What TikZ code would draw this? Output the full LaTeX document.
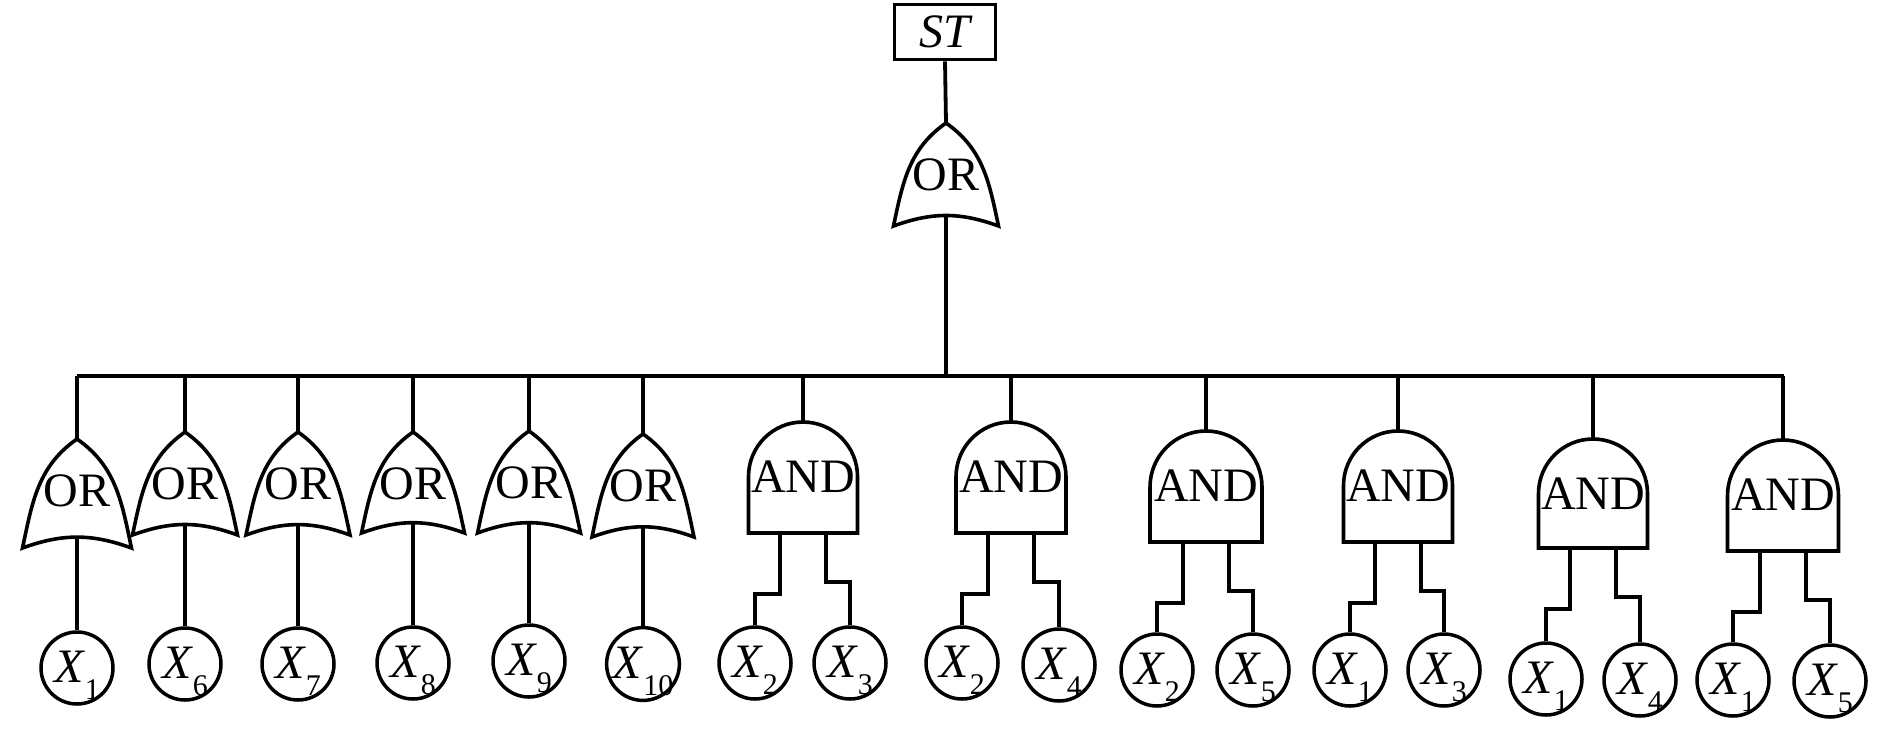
\documentclass[tikz,border=0pt]{standalone}
\usepackage{fontspec}
\setmainfont{Liberation Serif}
\tikzset{
  wire/.style={line width=3.8pt, line join=miter},
  gateline/.style={line width=3.6pt, line join=miter},
  gatetext/.style={inner sep=0pt, font=\fontsize{48}{50}\selectfont},
  event/.style={circle, draw, line width=3.5pt, minimum size=72pt, inner sep=0pt,
    text height=34pt, text depth=6pt, font=\fontsize{48}{50}\selectfont},
  topbox/.style={rectangle, draw, line width=3.6pt, minimum width=101pt, minimum height=55pt,
    inner sep=0pt, font=\fontsize{48}{50}\selectfont\itshape}
}
\newcommand\Xv[1]{\textit{X}\raisebox{-17pt}{\fontsize{30}{30}\selectfont #1}}
% name, x, ytop, ybot, width
\newcommand\ORgate[5]{%
  \draw[gateline] ({#2-#5/2},-#4) to[out=78,in=215] (#2,-#3)
     to[out=-35,in=102] ({#2+#5/2},-#4) to[out=160,in=20] cycle;
  \coordinate (#1-in) at (#2,-#3);
  \coordinate (#1-out) at (#2,{-#4+10});
  \node[gatetext] (#1) at (#2,{-#3-52}) {OR};
}
\newcommand\ANDgate[5]{%
  \draw[gateline] ({#2-#5/2},-#4) -- ({#2-#5/2},{-#3-#5/2})
     arc[start angle=180,end angle=0,radius={#5/2}] -- ({#2+#5/2},-#4) -- cycle;
  \coordinate (#1-in) at (#2,-#3);
  \coordinate (#1-l) at ({#2-23},-#4);
  \coordinate (#1-r) at ({#2+23},-#4);
  \node[gatetext] (#1) at (#2,{-#3-55}) {AND};
}
\begin{document}
\begin{tikzpicture}[x=1pt,y=1pt]
\useasboundingbox (0,0) rectangle (1890,-732);

% top event and top OR
\node[topbox] (ST) at (945,-32) {ST};
\ORgate{T}{946}{123}{226}{105}
\draw[wire] (ST.south) -- (T-in);

% bus
\coordinate (busL) at (77,-376);
\coordinate (busR) at (1784,-376);
\draw[wire] (busL) -- (busR);
\draw[wire] (T-out) -- (T-out |- busL);

% OR gates
\ORgate{O1}{77}{439}{548}{109}
\ORgate{O2}{185}{432}{535}{105}
\ORgate{O3}{298}{432}{535}{104}
\ORgate{O4}{413}{432}{533}{103}
\ORgate{O5}{529}{431}{533}{103}
\ORgate{O6}{643}{434}{537}{102}

\node[event] (e1) at (77,-668) {\Xv{1}};
\node[event] (e6) at (185,-664) {\Xv{6}};
\node[event] (e7) at (298,-664) {\Xv{7}};
\node[event] (e8) at (413,-663) {\Xv{8}};
\node[event] (e9) at (529,-661) {\Xv{9}};
\node[event] (e10) at (643,-664) {\Xv{10}};

\foreach \g/\e in {O1/e1,O2/e6,O3/e7,O4/e8,O5/e9,O6/e10}{
  \draw[wire] (\g-in) -- (\g-in |- busL);
  \draw[wire] (\g-out) -- (\e.north);
}

% AND gates
\ANDgate{A1}{803}{422}{533}{109}
\ANDgate{A2}{1011}{422}{533}{110}
\ANDgate{A3}{1206}{431}{542}{112}
\ANDgate{A4}{1398}{431}{542}{109}
\ANDgate{A5}{1593}{439}{548}{109}
\ANDgate{A6}{1783}{440}{551}{111}

\node[event] (a1l) at (755,-663) {\Xv{2}};
\node[event] (a1r) at (850,-663) {\Xv{3}};
\node[event] (a2l) at (962,-663) {\Xv{2}};
\node[event] (a2r) at (1059,-665) {\Xv{4}};
\node[event] (a3l) at (1157,-670) {\Xv{2}};
\node[event] (a3r) at (1253,-670) {\Xv{5}};
\node[event] (a4l) at (1350,-670) {\Xv{1}};
\node[event] (a4r) at (1444,-670) {\Xv{3}};
\node[event] (a5l) at (1546,-679) {\Xv{1}};
\node[event] (a5r) at (1640,-680) {\Xv{4}};
\node[event] (a6l) at (1733,-680) {\Xv{1}};
\node[event] (a6r) at (1830,-681) {\Xv{5}};

\foreach \g/\el/\er in {A1/a1l/a1r,A2/a2l/a2r,A3/a3l/a3r,A4/a4l/a4r,A5/a5l/a5r,A6/a6l/a6r}{
  \draw[wire] (\g-in) -- (\g-in |- busL);
  \draw[wire] (\g-l) -- ++(0,-61) -| (\el.north);
  \draw[wire] (\g-r) -- ++(0,-49) -| (\er.north);
}
\end{tikzpicture}
\end{document}
